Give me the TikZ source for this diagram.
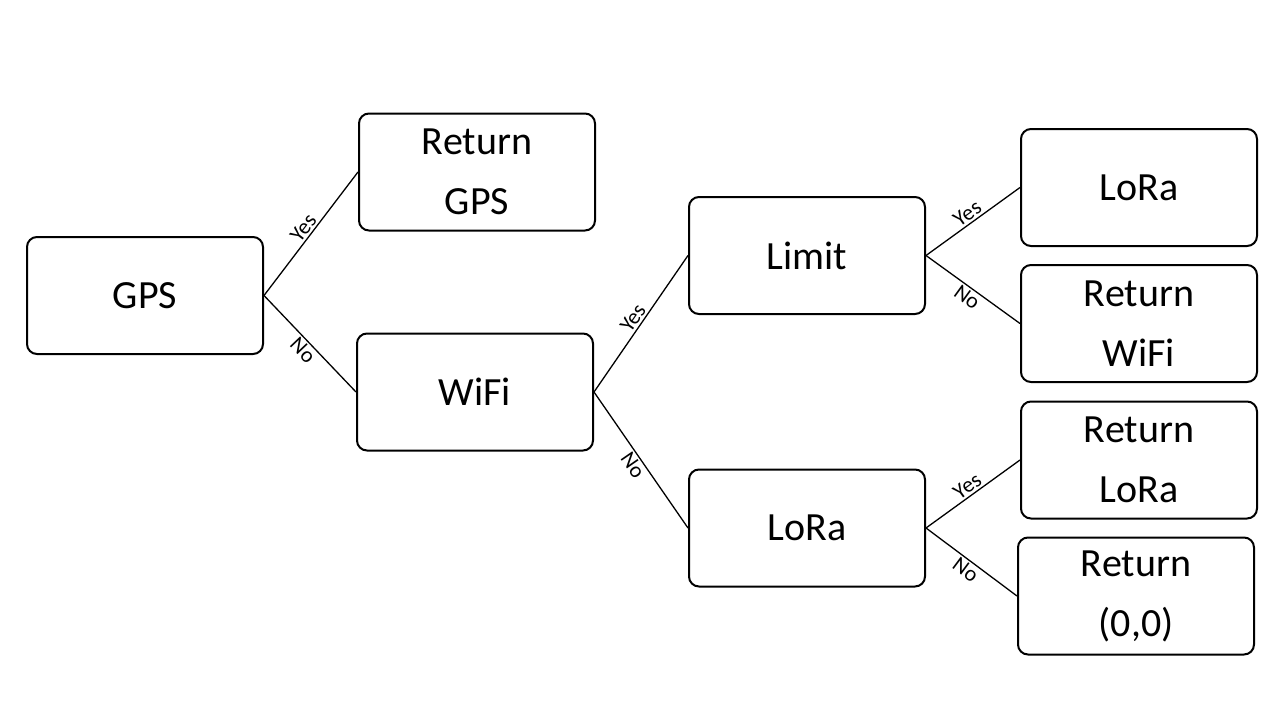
\documentclass[tikz,border=0pt]{standalone}
\usepackage{fontspec}
\setmainfont{Carlito}
\begin{document}
\begin{tikzpicture}[x=1pt,y=-1pt,
  box/.style={draw=black,line width=2pt,rounded corners=10pt,minimum width=236pt,minimum height=117pt,inner sep=0pt,align=center,font=\fontsize{40}{60}\selectfont},
  conn/.style={draw=black,line width=1.3pt},
  lab/.style={font=\fontsize{22}{26}\selectfont,sloped,inner sep=2pt}]
\useasboundingbox (0,0) rectangle (1280,720);
\node[box] (gps) at (145,295.5) {GPS};
\node[box] (rgps) at (477,172) {Return\\GPS};
\node[box] (wifi) at (475,392) {WiFi};
\node[box] (limit) at (807,255.5) {Limit};
\node[box] (lora) at (807,528) {LoRa};
\node[box] (lora2) at (1139,187.5) {LoRa};
\node[box] (rwifi) at (1139,323.5) {Return\\WiFi};
\node[box] (rlora) at (1139,460) {Return\\LoRa};
\node[box] (r00) at (1136,596) {Return\\(0,0)};
\draw[conn] (gps.east) -- node[lab,above] {Yes} (rgps.west);
\draw[conn] (gps.east) -- node[lab,below] {No} (wifi.west);
\draw[conn] (wifi.east) -- node[lab,above] {Yes} (limit.west);
\draw[conn] (wifi.east) -- node[lab,below] {No} (lora.west);
\draw[conn] (limit.east) -- node[lab,above] {Yes} (lora2.west);
\draw[conn] (limit.east) -- node[lab,below] {No} (rwifi.west);
\draw[conn] (lora.east) -- node[lab,above] {Yes} (rlora.west);
\draw[conn] (lora.east) -- node[lab,below] {No} (r00.west);
\end{tikzpicture}
\end{document}
